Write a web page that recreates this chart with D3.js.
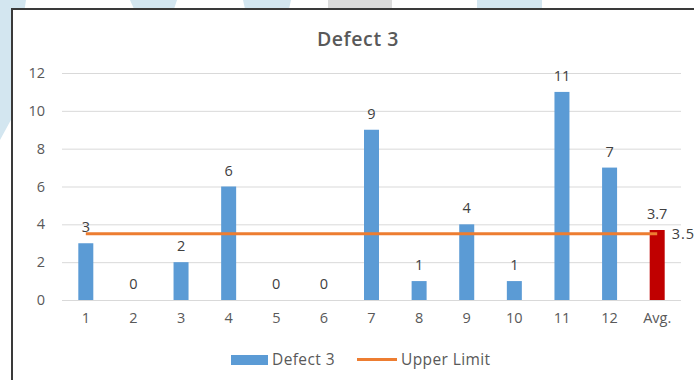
<!DOCTYPE html>
<html>
<head>
<meta charset="utf-8">
<script src="https://cdn.jsdelivr.net/npm/d3@7/dist/d3.min.js"></script>
<style>
  html, body { margin: 0; padding: 0; background: #ffffff; }
  svg { display: block; }
  text { font-family: "Open Sans", "Liberation Sans", sans-serif; }
</style>
</head>
<body>
<svg id="chart" width="694" height="380"></svg>
<script>
// Monthly defect counts plus the yearly average
const categories = ["1", "2", "3", "4", "5", "6", "7", "8", "9", "10", "11", "12", "Avg."];
const defectValues = [3, 0, 2, 6, 0, 0, 9, 1, 4, 1, 11, 7, 3.7];
const upperLimit = 3.5;
const yTicks = [0, 2, 4, 6, 8, 10, 12];

const svg = d3.select("#chart");
const W = 694, H = 380;
const labelSize = 14.5;

// Decorative page backdrop behind the chart frame
const deco = svg.append("g");
deco.append("path").attr("d", "M0,0 L26,0 L14,80 L12,118 L0,140 Z").attr("fill", "#d3e6f0");
deco.append("path").attr("d", "M130,0 L177,0 L174,9 L134,9 Z").attr("fill", "#d3e6f0");
deco.append("path").attr("d", "M243,0 L291,0 L289,9 L245,9 Z").attr("fill", "#d3e6f0");
deco.append("rect").attr("x", 328).attr("y", 0).attr("width", 64).attr("height", 9).attr("fill", "#dcdcdc");
deco.append("rect").attr("x", 477).attr("y", 0).attr("width", 65).attr("height", 9).attr("fill", "#d3e6f0");

// Chart frame
svg.append("rect")
  .attr("x", 12).attr("y", 9)
  .attr("width", W + 20).attr("height", H + 20)
  .attr("fill", "#ffffff")
  .attr("stroke", "#3a3a3a").attr("stroke-width", 2);

const plot = { left: 62, right: 681, top: 73, bottom: 300 };

const x = d3.scaleBand()
  .domain(categories)
  .range([plot.left, plot.right])
  .paddingInner(0.685)
  .paddingOuter(0.3425);

const y = d3.scaleLinear()
  .domain([0, 12])
  .range([plot.bottom, plot.top]);

// Title
svg.append("text")
  .attr("x", 358).attr("y", 46)
  .attr("text-anchor", "middle")
  .attr("font-size", 19.5).attr("font-weight", 600)
  .attr("letter-spacing", 0.6)
  .attr("fill", "#595959")
  .text("Defect 3");

// Gridlines and y labels via a left axis
const yAxis = d3.axisLeft(y).tickValues(yTicks).tickSize(-(plot.right - plot.left)).tickPadding(17);
const gy = svg.append("g").attr("transform", `translate(${plot.left},0)`).call(yAxis);
gy.select(".domain").remove();
gy.selectAll(".tick line").attr("stroke", "#d9d9d9").attr("stroke-width", 1);
gy.selectAll(".tick text")
  .attr("font-size", labelSize).attr("fill", "#595959")
  .style("font-family", "'Open Sans', sans-serif");

// x labels via a bottom axis
const xAxis = d3.axisBottom(x).tickSize(0).tickPadding(13);
const gx = svg.append("g").attr("transform", `translate(0,${plot.bottom})`).call(xAxis);
gx.select(".domain").remove();
gx.selectAll(".tick text")
  .attr("font-size", labelSize).attr("fill", "#595959")
  .style("font-family", "'Open Sans', sans-serif");

// Bars
const rows = categories.map((c, i) => ({ cat: c, value: defectValues[i] }));
svg.append("g").selectAll("rect")
  .data(rows)
  .join("rect")
  .attr("x", d => x(d.cat))
  .attr("y", d => y(d.value))
  .attr("width", x.bandwidth())
  .attr("height", d => y(0) - y(d.value))
  .attr("fill", d => d.cat === "Avg." ? "#c00000" : "#5b9bd5");

// Value labels
svg.append("g").selectAll("text")
  .data(rows)
  .join("text")
  .attr("x", d => x(d.cat) + x.bandwidth() / 2)
  .attr("y", d => y(d.value) - 11)
  .attr("text-anchor", "middle")
  .attr("font-size", labelSize)
  .attr("fill", "#404040")
  .text(d => d.value);

// Upper limit line across all categories
const first = categories[0], last = categories[categories.length - 1];
const x0 = x(first) + x.bandwidth() / 2;
const x1 = x(last) + x.bandwidth() / 2;
svg.append("line")
  .attr("x1", x0).attr("x2", x1)
  .attr("y1", y(upperLimit)).attr("y2", y(upperLimit))
  .attr("stroke", "#ed7d31").attr("stroke-width", 3);
svg.append("text")
  .attr("x", x(last) + x.bandwidth() + 7)
  .attr("y", y(upperLimit))
  .attr("dy", "0.35em")
  .attr("font-size", labelSize)
  .attr("letter-spacing", 1)
  .attr("fill", "#404040")
  .text(upperLimit);

// Legend
const lg = svg.append("g");
lg.append("rect").attr("x", 231).attr("y", 355).attr("width", 37).attr("height", 10).attr("fill", "#5b9bd5");
lg.append("text").attr("x", 272).attr("y", 365).attr("font-size", 15.5).attr("letter-spacing", 0.4)
  .attr("fill", "#595959").text("Defect 3");
lg.append("line").attr("x1", 357).attr("x2", 397).attr("y1", 359.5).attr("y2", 359.5)
  .attr("stroke", "#ed7d31").attr("stroke-width", 3);
lg.append("text").attr("x", 401).attr("y", 365).attr("font-size", 15.5).attr("letter-spacing", 0.4)
  .attr("fill", "#595959").text("Upper Limit");
</script>
</body>
</html>
